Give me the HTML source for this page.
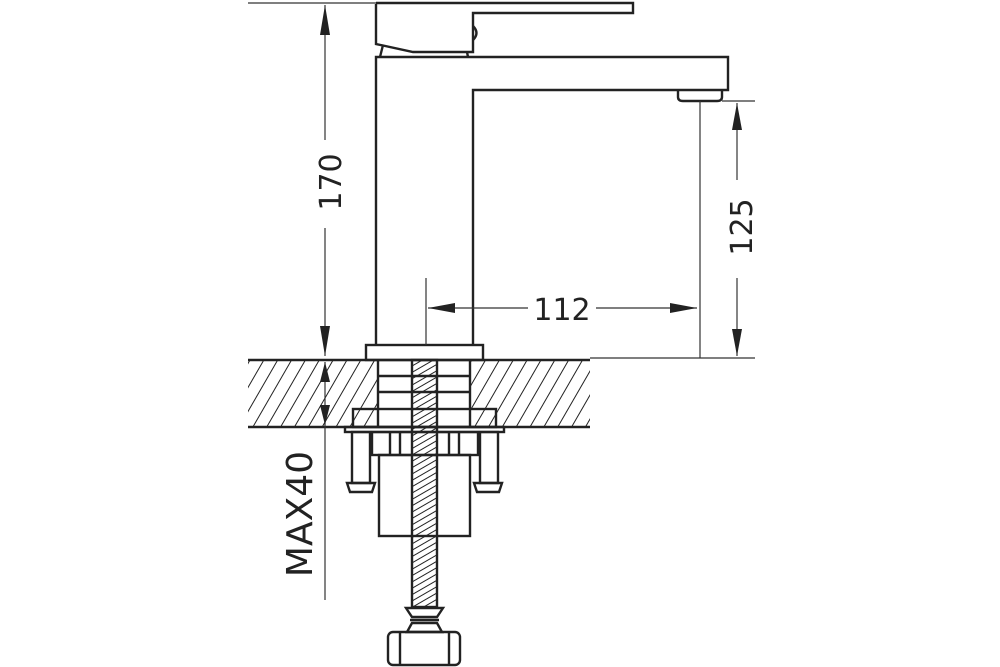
<!DOCTYPE html>
<html><head><meta charset="utf-8"><style>
html,body{margin:0;padding:0;background:#fff;}
svg{display:block}
text{font-family:"DejaVu Sans","Liberation Sans",sans-serif;fill:#222}
</style></head><body>
<svg width="1000" height="667" viewBox="0 0 1000 667" xmlns="http://www.w3.org/2000/svg">
<defs>
<pattern id="h" width="12" height="12" patternUnits="userSpaceOnUse" patternTransform="rotate(30)">
<line x1="0" y1="0" x2="0" y2="12" stroke="#222" stroke-width="2"/>
</pattern>
<pattern id="t" width="5.5" height="5.5" patternUnits="userSpaceOnUse" patternTransform="rotate(60)">
<line x1="0" y1="0" x2="0" y2="5.5" stroke="#222" stroke-width="2"/>
</pattern>
</defs>
<g fill="none" stroke="#222" stroke-width="2.4">
<rect x="248" y="360" width="342" height="67" fill="url(#h)" stroke="none"/>
<rect x="378" y="360" width="92" height="67" fill="#fff" stroke="none"/>
<line x1="248" y1="360" x2="590" y2="360"/>
<line x1="248" y1="427" x2="590" y2="427"/>
<line x1="378" y1="360" x2="378" y2="409"/>
<line x1="470" y1="360" x2="470" y2="409"/>
<line x1="378" y1="376" x2="470" y2="376"/>
<line x1="378" y1="392" x2="470" y2="392"/>
<rect x="353" y="409" width="143" height="18"/>
<line x1="378" y1="409" x2="378" y2="427"/><line x1="470" y1="409" x2="470" y2="427"/>
<rect x="345" y="427" width="159" height="5"/>
<rect x="352" y="432" width="18" height="51"/><rect x="480" y="432" width="18" height="51"/>
<path d="M347 483 H375 L372 492 H350 Z"/><path d="M474 483 H502 L499 492 H477 Z"/>
<rect x="372" y="432" width="106" height="23"/>
<line x1="390" y1="432" x2="390" y2="455"/><line x1="400" y1="432" x2="400" y2="455"/>
<line x1="449" y1="432" x2="449" y2="455"/><line x1="459" y1="432" x2="459" y2="455"/>
<rect x="379" y="455" width="91" height="81"/>
<rect x="412" y="360" width="25" height="247" fill="url(#t)" stroke="#222"/>
<path d="M406 608 H443 L437 617 H412 Z"/>
<line x1="410" y1="620" x2="439" y2="620"/>
<path d="M412 623 H437 L442 632 H407 Z"/>
<rect x="388" y="632" width="72" height="33" rx="5"/>
<line x1="400" y1="632" x2="400" y2="665"/><line x1="449" y1="632" x2="449" y2="665"/>
<rect x="366" y="345" width="117" height="15"/>
<path d="M376 345 V57 H728 V90 H473 V345"/>
<path d="M678 90 V97 Q678 101 683 101 H717 Q722 101 722 97 V90"/>
<path d="M376 4 V44 L413 52 H473 V13 H633 V3 H376"/>
<path d="M473 26 Q480 33 473 40"/>
<line x1="383" y1="45" x2="380" y2="57"/><line x1="467" y1="52" x2="468" y2="57"/>
</g>
<g stroke="#333" stroke-width="1.2" fill="none">
<line x1="248" y1="3" x2="376" y2="3"/>
<line x1="325" y1="5" x2="325" y2="140"/><line x1="325" y1="228" x2="325" y2="356"/>
<line x1="325" y1="362" x2="325" y2="600"/>
<line x1="700" y1="101" x2="700" y2="358"/>
<line x1="722" y1="101" x2="755" y2="101"/>
<line x1="590" y1="358" x2="755" y2="358"/>
<line x1="737" y1="103" x2="737" y2="180"/><line x1="737" y1="278" x2="737" y2="356"/>
<line x1="426" y1="278" x2="426" y2="345"/>
<line x1="428" y1="308" x2="528" y2="308"/><line x1="596" y1="308" x2="697" y2="308"/>
</g>
<g fill="#222">
<path d="M325 5 L320 35 H330 Z"/><path d="M325 356 L320 326 H330 Z"/>
<path d="M325 362 L320 382 H330 Z"/><path d="M325 425 L320 405 H330 Z"/>
<path d="M737 103 L732 130 H742 Z"/><path d="M737 356 L732 329 H742 Z"/>
<path d="M428 308 L455 303 V313 Z"/><path d="M697 308 L670 303 V313 Z"/>
</g>
<text x="0" y="0" font-size="30" text-anchor="middle" transform="translate(341,182) rotate(-90)">170</text>
<text x="0" y="0" font-size="30" text-anchor="middle" transform="translate(752,227) rotate(-90)">125</text>
<text x="562" y="320" font-size="30" text-anchor="middle">112</text>
<text x="0" y="0" font-size="36" text-anchor="middle" transform="translate(312,514) rotate(-90)">MAX40</text>
</svg>
</body></html>
